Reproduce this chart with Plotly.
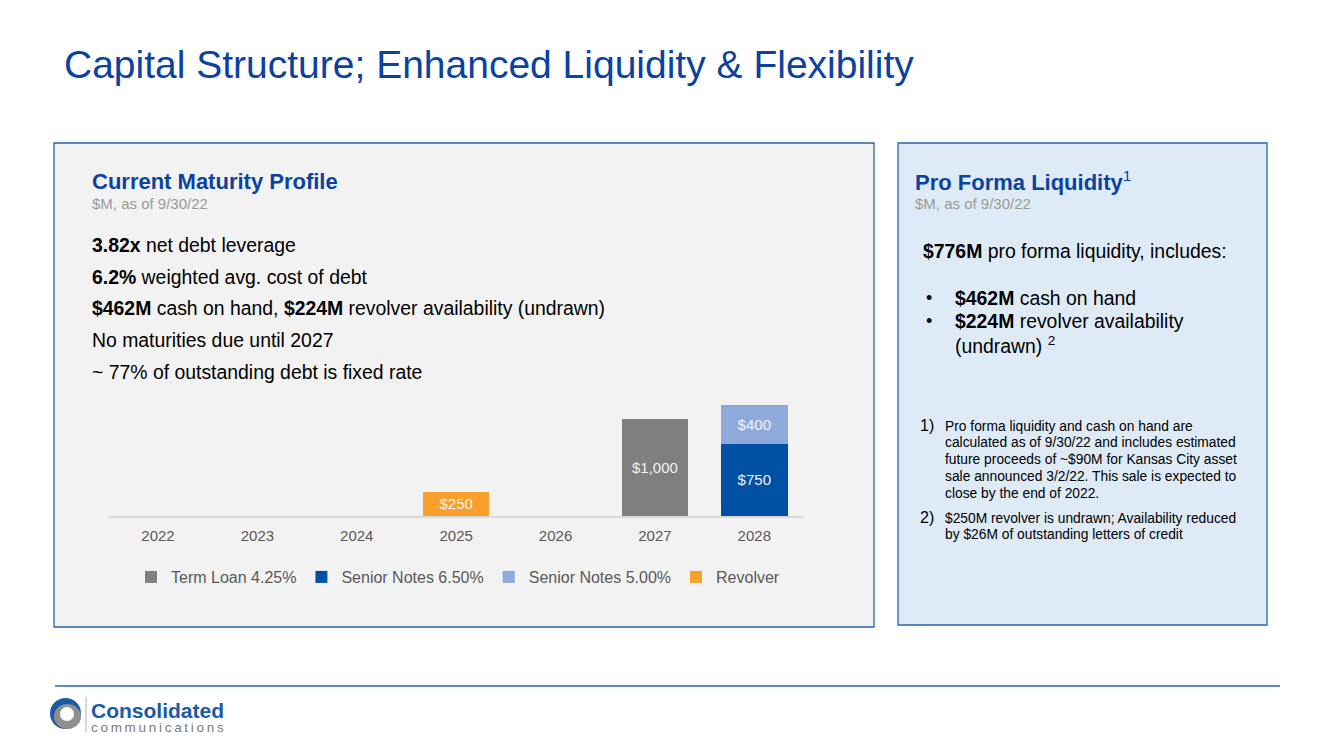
import plotly.graph_objects as go

# page offset: the browser body has an 8px margin, so the figure is drawn 8px in
OFF = 8
W, H = 1333 - 2 * OFF, 749 - 2 * OFF

years = ["2022", "2023", "2024", "2025", "2026", "2027", "2028"]
term_loan = [None, None, None, None, None, 1000, None]
senior_650 = [None, None, None, None, None, None, 750]
senior_500 = [None, None, None, None, None, None, 400]
revolver = [None, None, None, 250, None, None, None]

series_names = ["Term Loan 4.25%", "Senior Notes 6.50%", "Senior Notes 5.00%", "Revolver"]
series_values = [term_loan, senior_650, senior_500, revolver]
series_colors = ["#7f7f7f", "#0051a3", "#8eaadb", "#f7a02b"]

FONT = "Arial, Liberation Sans, sans-serif"
BLUE = "#0b429f"
BORDER = "#2a64a8"


def px(x):
    return (x - OFF) / W


def py(y):
    return 1 - (y - OFF) / H


fig = go.Figure()
for name, vals, col in zip(series_names, series_values, series_colors):
    xs = [yr for yr, v in zip(years, vals) if v is not None]
    ys = [v for v in vals if v is not None]
    fig.add_trace(go.Bar(
        x=xs, y=ys, name=name, marker=dict(color=col, line=dict(width=0)),
        texttemplate="$%{y:,}", textposition="inside", insidetextanchor="middle",
        textangle=0, textfont=dict(color="#f2f2f2", size=15, family=FONT),
        hoverinfo="skip",
    ))

shapes = [
    dict(type="rect", xref="paper", yref="paper", x0=px(54), x1=px(874), y0=py(627), y1=py(143),
         fillcolor="#f2f2f2", line=dict(color=BORDER, width=1.3), layer="below"),
    dict(type="rect", xref="paper", yref="paper", x0=px(898), x1=px(1267), y0=py(625), y1=py(143),
         fillcolor="#deebf7", line=dict(color=BORDER, width=1.3), layer="below"),
    dict(type="line", xref="paper", yref="paper", x0=px(55), x1=px(1280), y0=py(686), y1=py(686),
         line=dict(color=BORDER, width=1.5)),
    # logo swirl
    dict(type="circle", xref="paper", yref="paper", x0=px(50), x1=px(81), y0=py(729), y1=py(698),
         fillcolor="#1b5aa5", line=dict(width=0)),
    dict(type="circle", xref="paper", yref="paper", x0=px(54), x1=px(81), y0=py(729), y1=py(704),
         fillcolor="#8f8f8f", line=dict(width=0)),
    dict(type="circle", xref="paper", yref="paper", x0=px(60), x1=px(74), y0=py(721), y1=py(707),
         fillcolor="white", line=dict(width=0)),
    dict(type="line", xref="paper", yref="paper", x0=px(86), x1=px(86), y0=py(732), y1=py(697),
         line=dict(color="#b0b0b0", width=1)),
]

ann = []


def text(x, y, s, size, color="#000000", anchor="left"):
    ann.append(dict(x=px(x), y=py(y), xref="paper", yref="paper", text=s, showarrow=False,
                    xanchor=anchor, yanchor="middle", align="left",
                    font=dict(family=FONT, size=size, color=color)))


text(62, 65, "Capital Structure; Enhanced Liquidity &amp; Flexibility", 39, BLUE)

# left panel
text(90, 181, "<b>Current Maturity Profile</b>", 22, BLUE)
text(90, 203, "$M, as of 9/30/22", 15, "#9a9a9a")
left_lines = [
    "<b>3.82x</b> net debt leverage",
    "<b>6.2%</b> weighted avg. cost of debt",
    "<b>$462M</b> cash on hand, <b>$224M</b> revolver availability (undrawn)",
    "No maturities due until 2027",
    "~ 77% of outstanding debt is fixed rate",
]
for i, s in enumerate(left_lines):
    text(90, 245 + i * 31.7, s, 19.4)

# right panel
text(913, 181, "<b>Pro Forma Liquidity</b><sup>1</sup>", 22, BLUE)
text(913, 203, "$M, as of 9/30/22", 15, "#9a9a9a")
text(921, 251, "<b>$776M</b> pro forma liquidity, includes:", 19.4)
text(924, 298, "•", 18)
text(924, 321, "•", 18)
text(953, 298, "<b>$462M</b> cash on hand", 19.4)
text(953, 321, "<b>$224M</b> revolver availability", 19.4)
text(953, 345, "(undrawn) <sup>2</sup>", 19.4)

text(918, 425, "1)", 16)
fn1 = [
    "Pro forma liquidity and cash on hand are",
    "calculated as of 9/30/22 and includes estimated",
    "future proceeds of ~$90M for Kansas City asset",
    "sale announced 3/2/22. This sale is expected to",
    "close by the end of 2022.",
]
for i, s in enumerate(fn1):
    text(943, 426 + i * 16.8, s, 13.8)
text(918, 517, "2)", 16)
fn2 = [
    "$250M revolver is undrawn; Availability reduced",
    "by $26M of outstanding letters of credit",
]
for i, s in enumerate(fn2):
    text(943, 518 + i * 16.8, s, 13.8)

# logo text
text(89, 710, "<b>Consolidated</b>", 21, "#1a5aa6")
text(89, 727, "c\u2009o\u2009m\u2009m\u2009u\u2009n\u2009i\u2009c\u2009a\u2009t\u2009i\u2009o\u2009n\u2009s", 13.5, "#7a7a7a")

fig.update_layout(
    width=W, height=H, autosize=False,
    margin=dict(l=0, r=0, t=0, b=0),
    paper_bgcolor="white", plot_bgcolor="rgba(0,0,0,0)",
    barmode="stack", bargap=0.33,
    font=dict(family=FONT, color="#595959"),
    shapes=shapes, annotations=ann,
    uniformtext=dict(minsize=15, mode="show"),
    xaxis=dict(domain=[px(108.3), px(804)], showgrid=False, zeroline=False,
               type="category", categoryorder="array", categoryarray=years,
               range=[-0.5, len(years) - 0.5],
               showline=True, linecolor="#d9d9d9", linewidth=1.5, ticks="",
               ticklabelstandoff=5,
               tickfont=dict(size=15, color="#595959", family=FONT), fixedrange=True),
    yaxis=dict(domain=[py(516), py(400)], range=[0, 1200], visible=False, fixedrange=True),
    legend=dict(orientation="h", x=px(458), xanchor="center", y=py(577), yanchor="middle",
                font=dict(size=16, color="#595959", family=FONT),
                bgcolor="rgba(0,0,0,0)", itemwidth=30, traceorder="normal",
                itemclick=False, itemdoubleclick=False),
    showlegend=True,
)

fig.write_html("out.html")
